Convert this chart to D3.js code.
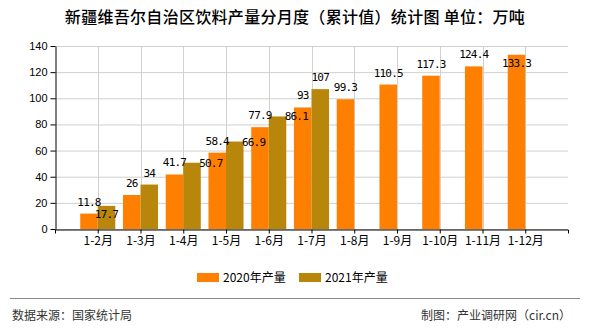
<!DOCTYPE html>
<html><head><meta charset="utf-8">
<script src="https://cdn.jsdelivr.net/npm/d3@7/dist/d3.min.js"></script>
<style>
html,body{margin:0;padding:0;background:#fff;}
svg{display:block;}
</style></head>
<body>
<svg id="c" width="590" height="330"></svg>
<script>
const categories = ["1-2月","1-3月","1-4月","1-5月","1-6月","1-7月","1-8月","1-9月","1-10月","1-11月","1-12月"];
const values2020 = [11.8,26,41.7,58.4,77.9,93,99.3,110.5,117.3,124.4,133.3];
const values2021 = [17.7,34,50.7,66.9,86.1,107];
const yTicks = [0,20,40,60,80,100,120,140];
const seriesNames = ["2020年产量","2021年产量"];
const colors = ["#FF8000","#B8860B"];

const svg = d3.select("#c");
const L = 55, R = 568, T = 46, B = 229;
const x = d3.scalePoint().domain(categories).range([L, R]).padding(1);
const y = d3.scaleLinear().domain([0, 140]).range([B, T]);
const bw = x.step() * 0.41;

// title
svg.append("text").attr("x", 295).attr("y", 23).attr("text-anchor", "middle")
  .attr("font-family", "'Noto Sans CJK SC', sans-serif").attr("font-size", 16).attr("font-weight", 500)
  .attr("letter-spacing", "0.3px")
  .attr("fill", "#000").text("新疆维吾尔自治区饮料产量分月度（累计值）统计图 单位：万吨");

// grid
const g = svg.append("g");
g.selectAll("line.h").data(yTicks).join("line")
  .attr("x1", L).attr("x2", R).attr("y1", d => y(d) + 0.5).attr("y2", d => y(d) + 0.5)
  .attr("stroke", "#d0d0d0").attr("stroke-width", 1);
g.selectAll("line.v").data(categories).join("line")
  .attr("x1", d => Math.round(x(d)) + 0.5).attr("x2", d => Math.round(x(d)) + 0.5)
  .attr("y1", T).attr("y2", B).attr("stroke", "#d0d0d0").attr("stroke-width", 1);

// bars
const bars = svg.append("g");
bars.selectAll("rect.a").data(values2020).join("rect")
  .attr("x", (d, i) => x(categories[i]) - bw).attr("width", bw)
  .attr("y", d => y(d)).attr("height", d => B - y(d)).attr("fill", colors[0]);
bars.selectAll("rect.b").data(values2021).join("rect")
  .attr("x", (d, i) => x(categories[i])).attr("width", bw)
  .attr("y", d => y(d)).attr("height", d => B - y(d)).attr("fill", colors[1]);

// axes
const ya = svg.append("g").attr("transform", `translate(${L + 0.5},0)`)
  .call(d3.axisLeft(y).tickValues(yTicks).tickSize(5).tickSizeOuter(0).tickPadding(3));
ya.selectAll("text").attr("font-family", "'Liberation Sans', Arial, sans-serif").attr("font-size", 11).attr("fill", "#000");
ya.selectAll("line,path").attr("stroke", "#000");
const xa = svg.append("g").attr("transform", `translate(0,${B + 0.5})`)
  .call(d3.axisBottom(x).tickSize(4).tickSizeOuter(4).tickPadding(3));
xa.selectAll("text").attr("font-family", "'Noto Sans CJK SC', sans-serif").attr("font-size", 12).attr("fill", "#000");
xa.selectAll("line,path").attr("stroke", "#000");

// value labels with simple overlap avoidance
const charW = 5.8, txtH = 8.3;
const placed = [];
function box(cx, base, s) { const w = s.length * charW; return {x0: cx - w / 2, x1: cx + w / 2, y0: base - txtH, y1: base}; }
function collides(b) {
  return placed.some(p => b.x0 < p.x1 && b.x1 > p.x0 && b.y0 < p.y1 + 6 && b.y1 > p.y0 - 6);
}
const labels = [];
values2020.forEach((v, i) => {
  const cx = x(categories[i]) - bw / 2, top = y(v), s = String(v);
  let base = top - 8;
  if (base - txtH < T) base = top + 12;
  const b = box(cx, base, s); placed.push(b);
  labels.push({cx, base, s});
});
values2021.forEach((v, i) => {
  const bx = x(categories[i]) + bw / 2, top = y(v), s = String(v);
  let cx = bx, base = top - 8;
  let b = box(cx, base, s);
  if (collides(b)) {
    const w = s.length * charW;
    cx = bx + bw / 2 - 1.5 + w / 2; base = top + 4;
    b = box(cx, base, s);
    if (b.y1 > B - 25) { cx = bx; base = top + 12; b = box(cx, base, s); }
  }
  placed.push(b);
  labels.push({cx, base, s});
});
svg.append("g").selectAll("text").data(labels).join("text")
  .attr("x", d => d.cx).attr("y", d => d.base).attr("text-anchor", "middle")
  .attr("font-family", "'DejaVu Sans Mono', monospace").attr("font-size", 11)
  .attr("letter-spacing", "-0.8px").attr("fill", "#000").text(d => d.s);

// legend
const lg = svg.append("g");
const legX = [197, 299];
seriesNames.forEach((n, i) => {
  lg.append("rect").attr("x", legX[i]).attr("y", 273).attr("width", 22).attr("height", 9).attr("fill", colors[i]);
  lg.append("text").attr("x", legX[i] + 26).attr("y", 282)
    .attr("font-family", "'Noto Sans CJK SC', sans-serif").attr("font-size", 12).attr("fill", "#000").text(n);
});

// footer
svg.append("line").attr("x1", 10).attr("x2", 580).attr("y1", 298.5).attr("y2", 298.5).attr("stroke", "#888").attr("stroke-width", 1);
svg.append("text").attr("x", 12).attr("y", 320).attr("font-family", "'Noto Sans CJK SC', sans-serif")
  .attr("font-size", 12).attr("fill", "#333").text("数据来源：国家统计局");
svg.append("text").attr("x", 571).attr("y", 320).attr("text-anchor", "end").attr("font-family", "'Noto Sans CJK SC', sans-serif")
  .attr("font-size", 12).attr("fill", "#333").text("制图：产业调研网（cir.cn）");
</script>
</body></html>
